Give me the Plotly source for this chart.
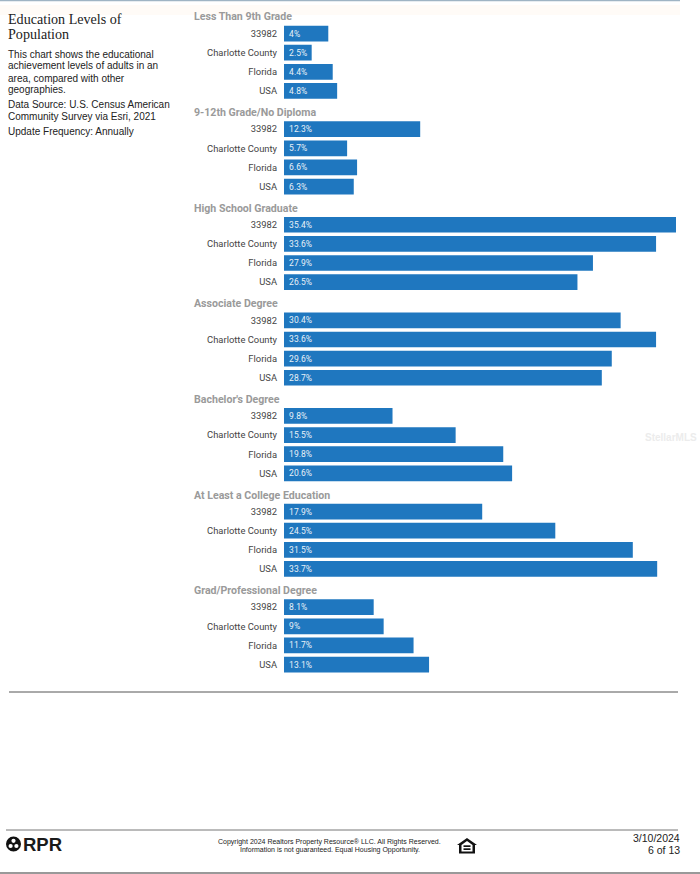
import plotly.graph_objects as go

GEOS = ["33982", "Charlotte County", "Florida", "USA"]
LEVELS = ["Less Than 9th Grade", "9-12th Grade/No Diploma", "High School Graduate",
          "Associate Degree", "Bachelor's Degree", "At Least a College Education",
          "Grad/Professional Degree"]
V_LT9 = [4, 2.5, 4.4, 4.8]
V_NODIP = [12.3, 5.7, 6.6, 6.3]
V_HS = [35.4, 33.6, 27.9, 26.5]
V_ASSOC = [30.4, 33.6, 29.6, 28.7]
V_BACH = [9.8, 15.5, 19.8, 20.6]
V_COLLEGE = [17.9, 24.5, 31.5, 33.7]
V_GRAD = [8.1, 9, 11.7, 13.1]
SERIES = [V_LT9, V_NODIP, V_HS, V_ASSOC, V_BACH, V_COLLEGE, V_GRAD]

W, H = 700, 874
X0, X1, XMAX = 284, 676, 35.4
PITCH = 95.6
TOP = 24.0
PLOT_H = 76.5
BLUE = "#1f77bf"
SANS = "Liberation Sans, Arial, sans-serif"
LABEL = "Roboto, Arial, sans-serif"

fig = go.Figure()
layout = {}
annots = []
for i, (name, vals) in enumerate(zip(LEVELS, SERIES)):
    s = "" if i == 0 else str(i + 1)
    top = TOP + i * PITCH
    fig.add_trace(go.Bar(
        x=vals, y=GEOS, orientation="h", xaxis="x" + s, yaxis="y" + s,
        marker=dict(color=BLUE, line=dict(width=0)), width=0.82,
        text=[f"&nbsp;{v:g}%" for v in vals], textposition="inside", insidetextanchor="start",
        textangle=0, constraintext="none", cliponaxis=False,
        textfont=dict(family=LABEL, size=8.5, color="#e8f1f8"),
        showlegend=False, hoverinfo="skip"))
    layout["xaxis" + s] = dict(domain=[X0 / W, X1 / W], range=[0, XMAX], visible=False,
                               anchor="y" + s, fixedrange=True)
    layout["yaxis" + s] = dict(domain=[1 - (top + PLOT_H) / H, 1 - top / H],
                               categoryorder="array", categoryarray=GEOS, autorange="reversed",
                               anchor="x" + s, showline=False, showgrid=False, zeroline=False,
                               ticks="", ticklabelstandoff=6,
                               tickfont=dict(family=LABEL, size=9.4, color="#444444"), fixedrange=True)
    annots.append(dict(x=194 / W, y=1 - (top - 7) / H, xref="paper", yref="paper", text=f"<b>{name}</b>",
                       showarrow=False, xanchor="left", yanchor="middle", borderpad=0, borderwidth=0,
                       font=dict(family=LABEL, size=10.6, color="#9a9a9a")))


def txt(x, y, t, size, color="#222222", family=SANS, anchor="left"):
    annots.append(dict(x=x / W, y=1 - y / H, xref="paper", yref="paper", text=t, showarrow=False,
                       borderpad=0, borderwidth=0,
                       xanchor=anchor, yanchor="middle", font=dict(family=family, size=size, color=color)))


txt(8, 19, "Education Levels of", 14.1, "#222222", "Liberation Serif, serif")
txt(8, 34, "Population", 14.1, "#222222", "Liberation Serif, serif")
for y, t in [(54.5, "This chart shows the educational"), (66, "achievement levels of adults in an"),
             (78, "area, compared with other"), (89.5, "geographies."),
             (104.5, "Data Source: U.S. Census American"), (116.5, "Community Survey via Esri, 2021"),
             (131.5, "Update Frequency: Annually")]:
    txt(8, y, t, 10)
txt(329.5, 842, "Copyright 2024 Realtors Property Resource® LLC. All Rights Reserved.", 7, anchor="center")
txt(329.5, 850, "Information is not guaranteed. Equal Housing Opportunity.", 7, anchor="center")
txt(680, 838, "3/10/2024", 10.5, anchor="right")
txt(680, 850, "6 of 13", 10.5, anchor="right")
txt(23, 844, "<b>RPR</b>", 18.5, "#1a1a1a")
txt(645, 437, "<b>StellarMLS</b>", 10, "#ececec")


def px(x): return x / W
def py(y): return 1 - y / H
def line(x0, y0, x1, y1, color, w):
    return dict(type="line", xref="paper", yref="paper", x0=px(x0), x1=px(x1), y0=py(y0), y1=py(y1),
                line=dict(color=color, width=w))
def path(points, fill="#111111", lw=0, lc="#111111"):
    d = "M" + " L".join(f"{px(a):.5f},{py(b):.5f}" for a, b in points) + " Z"
    return dict(type="path", xref="paper", yref="paper", path=d, fillcolor=fill, line=dict(width=lw, color=lc))
def disc(cx, cy, r, fill):
    return dict(type="circle", xref="paper", yref="paper", x0=px(cx - r), x1=px(cx + r), y0=py(cy + r), y1=py(cy - r),
                fillcolor=fill, line=dict(width=0))
def rect(x0, y0, x1, y1, fill, layer="above"):
    return dict(type="rect", xref="paper", yref="paper", x0=px(x0), x1=px(x1), y0=py(y1), y1=py(y0),
                fillcolor=fill, line=dict(width=0), layer=layer)


shapes = [
    rect(0, 5, 680, 15, "#fffbf7", "below"),
    line(0, 0.5, 680, 0.5, "#9fb4c4", 1.5),
    line(9, 692, 678, 692, "#555555", 1),
    line(6, 830, 678, 830, "#777777", 1),
    line(0, 873, 700, 873, "#777777", 1.5),
    # RPR mark
    disc(13.5, 844, 7.5, "#111111"),
    disc(13.5, 840.8, 2.1, "white"),
    disc(10.6, 846, 2.1, "white"),
    disc(16.4, 846, 2.1, "white"),
    # Equal housing mark
    path([(467, 838), (477, 845), (475, 845), (475, 853.5), (459, 853.5), (459, 845), (457, 845)]),
    path([(467, 841), (472.5, 845), (472.5, 851.5), (461.5, 851.5), (461.5, 845)], fill="white"),
    rect(463.5, 845.3, 470.5, 847, "#111111"),
    rect(463.5, 848.3, 470.5, 850, "#111111"),
]

fig.update_layout(width=W, height=H, margin=dict(l=0, r=0, t=0, b=0), paper_bgcolor="white",
                  plot_bgcolor="white", annotations=annots, shapes=shapes, **layout)
fig.write_html("out.html", config={"displayModeBar": False}, post_script="document.body.style.margin='0';")
